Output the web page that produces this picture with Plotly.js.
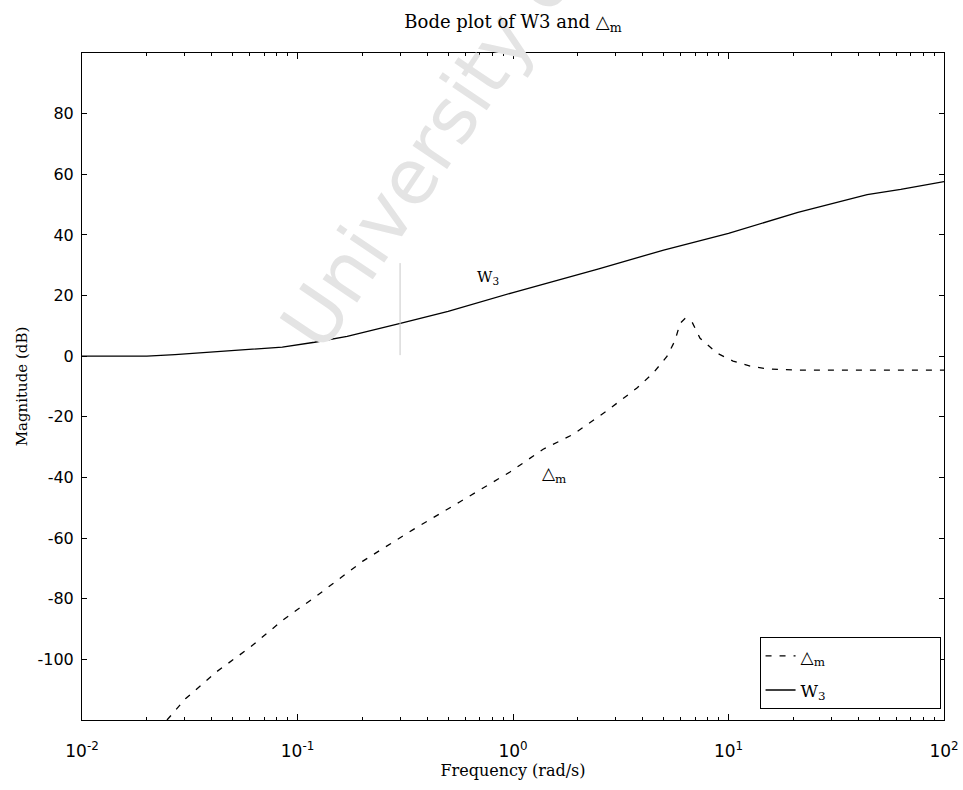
<!DOCTYPE html>
<html>
<head>
<meta charset="utf-8">
<script src="https://cdn.plot.ly/plotly-3.0.1.min.js"></script>
<style>html,body{margin:0;padding:0;background:#fff;}#chart{width:963px;height:790px;}</style>
</head>
<body>
<div id="chart"></div>
<script>
// W3 magnitude (dB) vs frequency (rad/s)
const w3Freq = [0.01, 0.02, 0.027, 0.04, 0.063, 0.085, 0.12, 0.17, 0.3, 0.5, 1, 2.5, 5, 10, 21, 44, 63, 100];
const w3Mag  = [0, 0, 0.5, 1.3, 2.4, 3, 4.6, 6.5, 10.8, 14.8, 21, 28.8, 35, 40.5, 47.4, 53.3, 55, 57.6];

// Delta_m magnitude (dB) vs frequency (rad/s)
const dmFreq = [0.0248, 0.0302, 0.0423, 0.0603, 0.0857, 0.123, 0.201, 0.344, 0.568, 0.968, 1.38, 1.90, 2.73, 3.76, 4.47, 5.19, 5.65, 5.96, 6.28, 6.76, 7.38, 8.85, 10.5, 12.6, 15.1, 21.4, 100];
const dmMag  = [-120, -113, -104, -96, -87, -79, -67.6, -57.2, -48, -38.2, -30.7, -25.8, -18, -10.5, -5.6, 0, 5.2, 10.8, 12.4, 11.4, 5.9, 1, -1.6, -3.3, -4.2, -4.6, -4.6];

const xTickVals = [0.01, 0.1, 1, 10, 100];
const xTickText = ['10<sup>-2</sup>', '10<sup>-1</sup>', '10<sup>0</sup>', '10<sup>1</sup>', '10<sup>2</sup>'];
const yTickVals = [-100, -80, -60, -40, -20, 0, 20, 40, 60, 80];
const yTickText = ['-100', '-80', '-60', '-40', '-20', '0', '20', '40', '60', '80'];

const minorVals = [];
[0.01, 0.1, 1, 10].forEach(d => { for (let k = 2; k <= 9; k++) minorVals.push(d * k); });

const pad = '\u00a0'.repeat(20);
const traces = [
  {x: dmFreq, y: dmMag, type: 'scatter', mode: 'lines', name: '△<sub>m</sub>' + pad, legendgroup: 'a',
   line: {color: '#000', width: 1.3, dash: '6px,8px'}},
  {x: w3Freq, y: w3Mag, type: 'scatter', mode: 'lines', name: 'W<sub>3</sub>' + pad, legendgroup: 'b',
   line: {color: '#000', width: 1.3}}
];

const serif = 'DejaVu Serif, Liberation Serif, serif';
const sans = 'DejaVu Sans, Liberation Sans, sans-serif';

const layout = {
  width: 963, height: 790,
  margin: {l: 82, r: 19, t: 53, b: 70},
  paper_bgcolor: '#fff', plot_bgcolor: '#fff',
  title: {text: 'Bode plot of W3 and △<sub>m</sub>', x: 0.5, xref: 'paper', y: 0.972, yanchor: 'middle',
          font: {family: serif, size: 18, color: '#000'}},
  showlegend: true,
  legend: {x: 0.996, y: 0.016, xanchor: 'right', yanchor: 'bottom', bgcolor: '#fff',
           bordercolor: '#000', borderwidth: 1, tracegroupgap: 9,
           font: {family: serif, size: 17, color: '#000'}},
  xaxis: {type: 'log', range: [-2, 2], tickmode: 'array', tickvals: xTickVals, ticktext: xTickText,
          ticks: 'inside', ticklen: 6, tickcolor: '#000', showline: true, linecolor: '#000', linewidth: 1,
          mirror: 'ticks', showgrid: false, zeroline: false,
          minor: {tickmode: 'array', tickvals: minorVals, ticks: 'inside', ticklen: 3, tickcolor: '#000', showgrid: false},
          tickfont: {family: sans, size: 17, color: '#000'}, ticklabelstandoff: 16,
          title: {text: 'Frequency (rad/s)', font: {family: serif, size: 16, color: '#000'}, standoff: 4}},
  yaxis: {range: [-120, 100], tickmode: 'array', tickvals: yTickVals, ticktext: yTickText,
          ticks: 'inside', ticklen: 5, tickcolor: '#000', showline: true, linecolor: '#000', linewidth: 1,
          mirror: 'ticks', showgrid: false, zeroline: false,
          tickfont: {family: sans, size: 16, color: '#000'}, ticklabelstandoff: 4,
          title: {text: 'Magnitude (dB)', font: {family: serif, size: 15, color: '#000'}, standoff: 6}},
  annotations: [
    {text: 'University of Cape Town', xref: 'paper', yref: 'paper', x: 0.55, y: 1.138,
     xanchor: 'center', yanchor: 'middle',
     showarrow: false, textangle: -56, font: {family: sans, size: 76, color: '#e4e4e4'}},
    {text: 'W<sub>3</sub>', xref: 'x', yref: 'y', x: -0.115, y: 26, showarrow: false,
     font: {family: serif, size: 15, color: '#000'}},
    {text: '△<sub>m</sub>', xref: 'x', yref: 'y', x: 0.19, y: -39, showarrow: false,
     font: {family: serif, size: 17, color: '#000'}}
  ],
  shapes: [
    {type: 'line', xref: 'paper', yref: 'paper', x0: 0.369, x1: 0.369, y0: 0.547, y1: 0.685,
     line: {color: '#c8c8c8', width: 1}}
  ]
};

Plotly.newPlot('chart', traces, layout, {displayModeBar: false, staticPlot: true}).then(gd => {
  // keep the title drawn above the faint watermark
  const t = gd.querySelector('.g-gtitle');
  if (t && t.parentNode) t.parentNode.appendChild(t);
});
</script>
</body>
</html>
